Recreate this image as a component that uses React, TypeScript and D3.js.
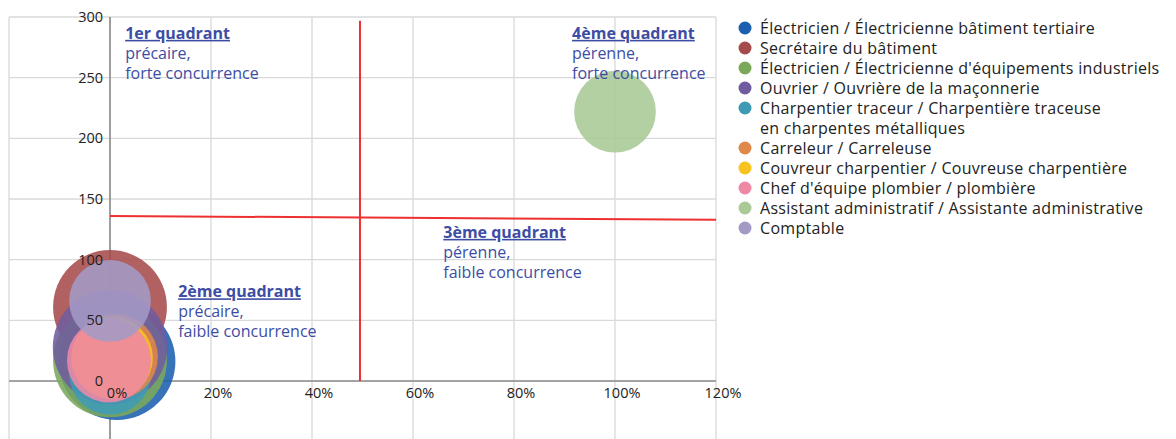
import React, { useEffect, useRef } from 'react';
import * as d3 from 'd3';

// Series (one bubble each)
const categories = [
  "Électricien / Électricienne bâtiment tertiaire",
  "Secrétaire du bâtiment",
  "Électricien / Électricienne d'équipements industriels",
  "Ouvrier / Ouvrière de la maçonnerie",
  "Charpentier traceur / Charpentière traceuse\nen charpentes métalliques",
  "Carreleur / Carreleuse",
  "Couvreur charpentier / Couvreuse charpentière",
  "Chef d'équipe plombier / plombière",
  "Assistant administratif / Assistante administrative",
  "Comptable",
];
const xValues = [0.014, 0, 0, 0, 0, 0.01, 0.004, -0.002, 1.0, 0];
const yValues = [16, 61, 17, 28, 6, 20, 19, 17, 222, 66];
const sizes = [104, 99, 99, 100, 51, 56, 51, 54, 51, 51];
const colors = [
  "#1c5fae", "#a64b4b", "#7ba85b", "#6f5c9e", "#3f9bb5",
  "#e0874a", "#f9c21e", "#ee89a5", "#a9c996", "#a49ac6",
];

// Quadrant separators (line series)
const vLine = [[0.495, 297], [0.495, 0]];
const hLine = [[0, 136], [1.2, 133]];

// Axis ticks
const xTicks = [0, 0.2, 0.4, 0.6, 0.8, 1.0, 1.2];
const xGrid = [-0.2, 0, 0.2, 0.4, 0.6, 0.8, 1.0, 1.2];
const yTicks = [0, 50, 100, 150, 200, 250, 300];

// Quadrant annotations (anchor in data units)
const quadTitles = ["1er quadrant", "2ème quadrant", "3ème quadrant", "4ème quadrant"];
const quadLines = [
  ["précaire,", "forte concurrence"],
  ["précaire,", "faible concurrence"],
  ["pérenne,", "faible concurrence"],
  ["pérenne,", "forte concurrence"],
];
const quadAnchors = [[0.03, 282], [0.135, 69], [0.66, 118], [0.915, 282]];

const W = 1176;
const H = 439;
const FONT = "'Open Sans', Lato, sans-serif";

const App = () => {
  const svgRef = useRef(null);

  useEffect(() => {
    const svg = d3.select(svgRef.current);
    svg.selectAll("*").remove();

    const x = d3.scaleLinear().domain([-0.2, 1.2]).range([9, 716]);
    const y = d3.scaleLinear().domain([-50, 300]).range([441.7, 17]);
    const r = d3.scaleSqrt().domain([0, 110]).range([0, 60]);

    // gridlines
    svg.append("g")
      .selectAll("line")
      .data(xGrid)
      .enter()
      .append("line")
      .attr("x1", d => x(d)).attr("x2", d => x(d))
      .attr("y1", y(300)).attr("y2", H)
      .attr("stroke", "#d9d9d9").attr("stroke-width", 1.3);

    svg.append("g")
      .selectAll("line")
      .data(yTicks)
      .enter()
      .append("line")
      .attr("x1", x(-0.2)).attr("x2", x(1.2))
      .attr("y1", d => y(d)).attr("y2", d => y(d))
      .attr("stroke", "#d9d9d9").attr("stroke-width", 1.3);

    // axis lines
    svg.append("line")
      .attr("x1", x(0)).attr("x2", x(0))
      .attr("y1", y(300)).attr("y2", H)
      .attr("stroke", "#8c8c8c").attr("stroke-width", 1.6);
    svg.append("line")
      .attr("x1", x(-0.2)).attr("x2", x(1.2))
      .attr("y1", y(0)).attr("y2", y(0))
      .attr("stroke", "#8c8c8c").attr("stroke-width", 1.6);

    // red quadrant lines
    const line = d3.line().x(d => x(d[0])).y(d => y(d[1]));
    [vLine, hLine].forEach(pts => {
      svg.append("path")
        .attr("d", line(pts))
        .attr("fill", "none")
        .attr("stroke", "#ee3030")
        .attr("stroke-width", 2);
    });

    // bubbles
    svg.append("g")
      .selectAll("circle")
      .data(categories.map((c, i) => i))
      .enter()
      .append("circle")
      .attr("cx", i => x(xValues[i]))
      .attr("cy", i => y(yValues[i]))
      .attr("r", i => r(sizes[i]))
      .attr("fill", i => colors[i])
      .attr("fill-opacity", 0.88);

    // tick labels
    svg.append("g")
      .selectAll("text")
      .data(yTicks)
      .enter()
      .append("text")
      .attr("x", 103)
      .attr("y", d => y(d))
      .attr("dy", "0.35em")
      .attr("text-anchor", "end")
      .attr("font-family", FONT)
      .attr("font-size", 14.5)
      .attr("fill", "#222")
      .text(d => d);

    svg.append("g")
      .selectAll("text")
      .data(xTicks)
      .enter()
      .append("text")
      .attr("x", d => x(d) + 7)
      .attr("y", y(0) + 17)
      .attr("text-anchor", "middle")
      .attr("font-family", FONT)
      .attr("font-size", 14.5)
      .attr("fill", "#222")
      .text(d => d3.format(".0%")(d));

    // quadrant annotations
    quadTitles.forEach((title, i) => {
      const ax = x(quadAnchors[i][0]);
      const ay = y(quadAnchors[i][1]);
      svg.append("text")
        .attr("x", ax).attr("y", ay)
        .attr("font-family", FONT)
        .attr("font-size", 16)
        .attr("fill", "#3d4da3")
        .attr("font-weight", "bold")
        .attr("text-decoration", "underline")
        .text(title);
      quadLines[i].forEach((l, j) => {
        svg.append("text")
          .attr("x", ax).attr("y", ay + 20 * (j + 1))
          .attr("font-family", FONT)
          .attr("font-size", 16)
          .attr("fill", "#3d4da3")
          .text(l);
      });
    });

    // legend
    const legend = svg.append("g").attr("transform", "translate(745,28)");
    let row = 0;
    categories.forEach((c, i) => {
      const lines = c.split("\n");
      const g = legend.append("g").attr("transform", `translate(0,${row * 20})`);
      g.append("circle")
        .attr("r", 6.5)
        .attr("fill", colors[i]);
      lines.forEach((l, j) => {
        g.append("text")
          .attr("x", 15)
          .attr("y", j * 20)
          .attr("dy", "0.35em")
          .attr("font-family", FONT)
          .attr("font-size", 16)
          .attr("letter-spacing", 0.3)
          .attr("fill", "#222")
          .text(l);
      });
      row += lines.length;
    });
  }, []);

  return (
    <div style={{ position: 'absolute', left: 0, top: 0 }}>
      <svg ref={svgRef} width={W} height={H} style={{ display: 'block' }}></svg>
    </div>
  );
};

export default App;
